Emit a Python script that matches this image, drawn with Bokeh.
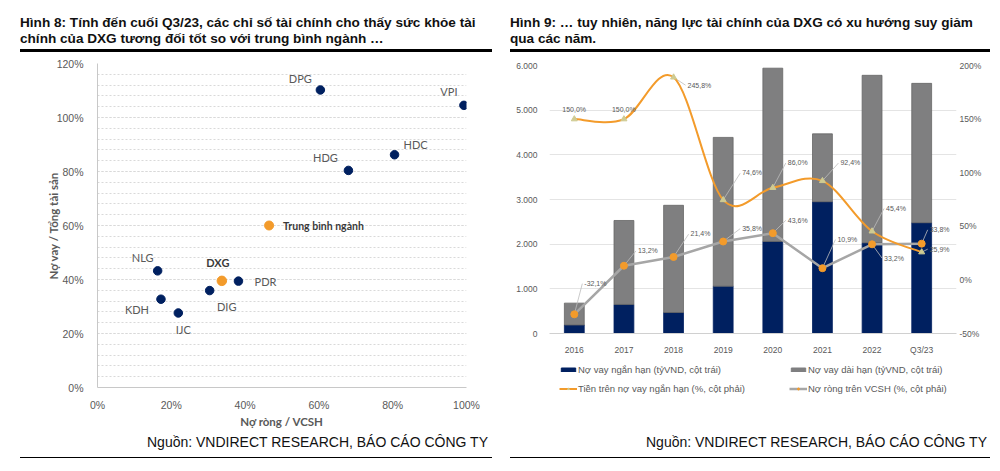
from bokeh.plotting import figure
from bokeh.models import (ColumnDataSource, Range1d, LinearAxis, FixedTicker, Div, Spacer,
                          Legend, LegendItem, PrintfTickFormatter)
from bokeh.layouts import row, column
from bokeh.core.properties import value
from bokeh.embed import file_html
from bokeh.resources import INLINE

# ---- Hình 8: scatter ----
tickers = ["DPG", "VPI", "HDC", "HDG", "NLG", "KDH", "IJC", "DIG", "PDR"]
net_debt_equity = [60.4, 99.3, 80.5, 68.0, 16.3, 17.2, 21.9, 30.4, 38.2]
debt_assets = [110.2, 104.5, 86.2, 80.4, 43.2, 32.7, 27.6, 35.9, 39.4]
dxg_name = "DXG"
dxg_point = [33.7, 39.5]
avg_name = "Trung bình ngành"
avg_point = [46.5, 60.0]

# ---- Hình 9: bars + lines ----
periods = ["2016", "2017", "2018", "2019", "2020", "2021", "2022", "Q3/23"]
short_debt = [190, 650, 470, 1060, 2060, 2950, 2030, 2480]
long_debt = [490, 1880, 2400, 3330, 3880, 1520, 3750, 3120]
# the 2018 marker sits near 189% in the source chart although it is labelled 245,8%
cash_to_short = [150.0, 150.0, 189.0, 74.6, 86.0, 92.4, 45.4, 25.9]
cash_labels = ["150,0%", "150,0%", "245,8%", "74,6%", "86,0%", "92,4%", "45,4%", "25,9%"]
net_debt_to_equity = [-32.1, 13.2, 21.4, 35.8, 43.6, 10.9, 33.2, 33.8]

NAVY = "#002060"
ORANGE = "#F39B2B"
GREY_BAR = "#7F7F80"
TXT = "#595959"
SANS = "Liberation Sans"
CAL = "Lato"
NAN = float("nan")


def title_div(html, w, size):
    return Div(text=f"<div style=\"font:bold {size}px '{SANS}';line-height:15.5px;color:#111;"
                    f"padding-top:15px;box-sizing:border-box;height:52px;width:{w}px;"
                    f"white-space:nowrap;border-bottom:3px solid #000\">{html}</div>",
               width=w, height=52, margin=0)


def source_div(w, pad):
    return Div(text=f"<div style=\"font:14px '{SANS}';line-height:16px;color:#111;text-align:right;"
                    f"padding-top:4px;padding-right:{pad}px;box-sizing:border-box;height:28px;"
                    f"width:{w}px;white-space:nowrap;border-bottom:1px solid #000\">"
                    f"Nguồn: VNDIRECT RESEARCH, BÁO CÁO CÔNG TY</div>",
               width=w, height=28, margin=0)


# ---------------- left chart ----------------
p1 = figure(width=472, height=378, x_range=Range1d(0, 100), y_range=Range1d(0, 120),
            output_backend="svg", toolbar_location=None, tools="",
            min_border_left=77, min_border_right=26, min_border_top=11, min_border_bottom=43)
p1.outline_line_color = None
p1.xgrid.grid_line_color = None
p1.yaxis.ticker = FixedTicker(ticks=[0, 20, 40, 60, 80, 100, 120],
                              minor_ticks=list(range(0, 121, 4)))
p1.xaxis.ticker = FixedTicker(ticks=[0, 20, 40, 60, 80, 100])
p1.ygrid.grid_line_color = "#d9d9d9"
p1.ygrid.grid_line_dash = "2 2"
p1.ygrid.minor_grid_line_color = "#d9d9d9"
p1.ygrid.minor_grid_line_dash = "2 2"
for ax in (p1.xaxis[0], p1.yaxis[0]):
    ax.formatter = PrintfTickFormatter(format="%d%%")
    ax.major_tick_line_color = None
    ax.minor_tick_line_color = None
    ax.axis_line_color = "#c8c8c8"
    ax.major_label_text_font = SANS
    ax.major_label_text_font_size = "10.5px"
    ax.major_label_text_color = TXT
    ax.axis_label_text_font = CAL
    ax.axis_label_text_font_style = "bold"
    ax.axis_label_text_font_size = "11.5px"
    ax.axis_label_text_color = TXT
p1.yaxis.major_label_standoff = 8
p1.yaxis.axis_label = "Nợ vay / Tổng tài sản"
p1.yaxis.axis_label_standoff = -6
p1.xaxis.major_label_standoff = 5
p1.xaxis.axis_label = "Nợ ròng / VCSH"
p1.xaxis.axis_label_standoff = 1

label_dx = [-20, -15, 21, -23, -15, -24, 5, 17, 27]
label_dy = [-11, -14, -10, -13, -13, 10, 17, 16, 0]
src1 = ColumnDataSource(dict(x=net_debt_equity, y=debt_assets, name=tickers,
                             dx=label_dx, dy=label_dy))
p1.scatter("x", "y", source=src1, size=8.5, fill_color=NAVY, line_color=NAVY)
p1.text("x", "y", text="name", source=src1, x_offset="dx", y_offset="dy",
        text_font=value(CAL), text_font_size="11px", text_color=TXT,
        text_align="center", text_baseline="middle")

p1.scatter([avg_point[0]], [avg_point[1]], size=9, fill_color=ORANGE, line_color=ORANGE)
p1.text([avg_point[0]], [avg_point[1]], text=[avg_name], x_offset=14,
        text_font=value(CAL), text_font_style="bold", text_font_size="10.5px",
        text_color="#3a3a3a", text_align="left", text_baseline="middle")
p1.scatter([dxg_point[0]], [dxg_point[1]], size=9.5, fill_color=ORANGE, line_color=ORANGE)
p1.text([dxg_point[0]], [dxg_point[1]], text=[dxg_name], x_offset=-4, y_offset=-18,
        text_font=value(CAL), text_font_style="bold", text_font_size="11px",
        text_color="#3a3a3a", text_align="center", text_baseline="middle")

# ---------------- right chart ----------------
W2, H2 = 480, 305
ML, MR, MT, MB = 39, 34, 13, 21
n = len(periods)
xi = list(range(n))
px_x = 397 / n                # pixels per category
extra = 10 / px_x             # a little room on the right for the last data labels
frame_h = H2 - MT - MB
px_y = frame_h / 250.0

p2 = figure(width=W2, height=H2, x_range=Range1d(-0.5, n - 0.5 + extra), y_range=Range1d(0, 6000),
            output_backend="svg", toolbar_location=None, tools="",
            min_border_left=ML, min_border_right=MR, min_border_top=MT, min_border_bottom=MB)
p2.outline_line_color = None
p2.xgrid.grid_line_color = None
p2.ygrid.grid_line_color = "#e4e4e4"
p2.extra_y_ranges = {"pct": Range1d(-50, 200)}

left_ticks = list(range(0, 6001, 1000))
p2.yaxis.ticker = FixedTicker(ticks=left_ticks)
p2.yaxis.major_label_overrides = {t: f"{t:,}".replace(",", ".") for t in left_ticks}
p2.xaxis.ticker = FixedTicker(ticks=xi)
p2.xaxis.major_label_overrides = {i: s for i, s in enumerate(periods)}
right_axis = LinearAxis(y_range_name="pct", ticker=FixedTicker(ticks=[-50, 0, 50, 100, 150, 200]),
                        formatter=PrintfTickFormatter(format="%d%%"))
p2.add_layout(right_axis, "right")
for ax in (p2.xaxis[0], p2.yaxis[0], right_axis):
    ax.major_tick_line_color = None
    ax.minor_tick_line_color = None
    ax.axis_line_color = None
    ax.major_label_text_font = SANS
    ax.major_label_text_font_size = "8.5px"
    ax.major_label_text_color = TXT
p2.xaxis.axis_line_color = "#d0d0d0"
p2.yaxis.major_label_standoff = 6
right_axis.major_label_standoff = -3
p2.xaxis.major_label_standoff = 5

bars = ColumnDataSource(dict(x=xi, short=short_debt, long=long_debt))
r_short, r_long = p2.vbar_stack(["short", "long"], x="x", width=0.4, source=bars,
                                fill_color=[NAVY, GREY_BAR], line_color=[NAVY, "#666666"],
                                line_width=0.8)

# smooth (Excel-style) curve through the cash ratio points
bz = dict(x0=[], y0=[], x1=[], y1=[], cx0=[], cy0=[], cx1=[], cy1=[])
for i in range(n - 1):
    a = max(i - 1, 0)
    b = min(i + 2, n - 1)
    bz["x0"].append(xi[i]); bz["y0"].append(cash_to_short[i])
    bz["x1"].append(xi[i + 1]); bz["y1"].append(cash_to_short[i + 1])
    bz["cx0"].append(xi[i] + (xi[i + 1] - xi[a]) / 6)
    bz["cy0"].append(cash_to_short[i] + (cash_to_short[i + 1] - cash_to_short[a]) / 6)
    bz["cx1"].append(xi[i + 1] - (xi[b] - xi[i]) / 6)
    bz["cy1"].append(cash_to_short[i + 1] - (cash_to_short[b] - cash_to_short[i]) / 6)

cash_dx = [-12, -12, 14, 19, 15, 18, 14, 8]
cash_dy = [-10, -10, 8, -27, -25, -18, -23, -3]
nd_dx = [10, 14, 17, 19, 15, 15, 12, 8]
nd_dy = [-31, -15, -23, -13, -13, -29, 14, -14]


def fmt(v):
    return f"{v:.1f}".replace(".", ",") + "%"


def leaders(vals, dx, dy, skip):
    x0, y0, x1, y1 = [], [], [], []
    for i, v in enumerate(vals):
        if i in skip:
            continue
        x0.append(xi[i]); y0.append(v)
        x1.append(xi[i] + (dx[i] - 2) / px_x); y1.append(v - dy[i] / px_y)
    return dict(x0=x0, y0=y0, x1=x1, y1=y1)


p2.segment(source=ColumnDataSource(leaders(cash_to_short, cash_dx, cash_dy, {0, 1})),
           x0="x0", y0="y0", x1="x1", y1="y1", line_color="#bdbdbd", line_width=0.8,
           y_range_name="pct")
p2.segment(source=ColumnDataSource(leaders(net_debt_to_equity, nd_dx, nd_dy, set())),
           x0="x0", y0="y0", x1="x1", y1="y1", line_color="#bdbdbd", line_width=0.8,
           y_range_name="pct")

p2.line(xi, net_debt_to_equity, line_color="#A6A6A6", line_width=2.5, y_range_name="pct")
p2.scatter(xi, net_debt_to_equity, size=7, fill_color=ORANGE, line_color=ORANGE,
           y_range_name="pct")
p2.bezier(source=ColumnDataSource(bz), x0="x0", y0="y0", x1="x1", y1="y1",
          cx0="cx0", cy0="cy0", cx1="cx1", cy1="cy1",
          line_color=ORANGE, line_width=2, y_range_name="pct")
p2.scatter(xi, cash_to_short, marker="triangle", size=6, fill_color="#CFCB92",
           line_color="#CFCB92", y_range_name="pct")

lab = ColumnDataSource(dict(x=xi + xi, y=cash_to_short + net_debt_to_equity,
                            t=cash_labels + [fmt(v) for v in net_debt_to_equity],
                            dx=cash_dx + nd_dx, dy=cash_dy + nd_dy))
p2.text("x", "y", text="t", source=lab, x_offset="dx", y_offset="dy", y_range_name="pct",
        text_font=value(SANS), text_font_size="7px", text_color=TXT,
        text_align="left", text_baseline="middle")

# ---------------- legend strip under the right chart ----------------
p3 = figure(width=480, height=73, x_range=Range1d(0, 1), y_range=Range1d(0, 1),
            output_backend="svg", toolbar_location=None, tools="",
            x_axis_type=None, y_axis_type=None, min_border=0)
p3.outline_line_color = None
p3.grid.visible = False
g_short = p3.vbar(x=[NAN], top=[NAN], width=0.1, fill_color=NAVY, line_color=NAVY)
g_long = p3.vbar(x=[NAN], top=[NAN], width=0.1, fill_color=GREY_BAR, line_color=GREY_BAR)
g_cash_l = p3.line(x=[NAN], y=[NAN], line_color=ORANGE, line_width=2)
g_cash_m = p3.scatter(x=[NAN], y=[NAN], marker="triangle", size=5, fill_color="#CFCB92",
                      line_color="#CFCB92")
g_nd_l = p3.line(x=[NAN], y=[NAN], line_color="#A6A6A6", line_width=2.5)
g_nd_m = p3.scatter(x=[NAN], y=[NAN], size=5, fill_color=ORANGE, line_color=ORANGE)


def make_legend(items, loc):
    lg = Legend(items=items, location=loc, orientation="vertical")
    lg.label_text_font = SANS
    lg.label_text_font_size = "9.5px"
    lg.label_text_color = TXT
    lg.glyph_width = 18
    lg.glyph_height = 5
    lg.label_height = 10
    lg.label_standoff = 1
    lg.spacing = 8
    lg.padding = 0
    lg.margin = 0
    lg.border_line_color = None
    lg.background_fill_alpha = 0
    return lg


p3.add_layout(make_legend([
    LegendItem(label="Nợ vay ngắn hạn (tỷVND, cột trái)", renderers=[g_short]),
    LegendItem(label="Tiền trên nợ vay ngắn hạn (%, cột phải)", renderers=[g_cash_l, g_cash_m]),
], (10, 36)))
p3.add_layout(make_legend([
    LegendItem(label="Nợ vay dài hạn (tỷVND, cột trái)", renderers=[g_long]),
    LegendItem(label="Nợ ròng trên VCSH (%, cột phải)", renderers=[g_nd_l, g_nd_m]),
], (240, 36)))

left = column(title_div("Hình 8: Tính đến cuối Q3/23, các chỉ số tài chính cho thấy sức khỏe tài<br>"
                        "chính của DXG tương đối tốt so với trung bình ngành …", 472, 13.6),
              p1, source_div(472, 4))
right = column(title_div("Hình 9: … tuy nhiên, năng lực tài chính của DXG có xu hướng suy giảm<br>"
                         "qua các năm.", 480, 13.6),
               p2, p3, source_div(480, 3))
page = row(Spacer(width=20), left, Spacer(width=18), right)

open("out.html", "w").write(file_html(page, INLINE))
